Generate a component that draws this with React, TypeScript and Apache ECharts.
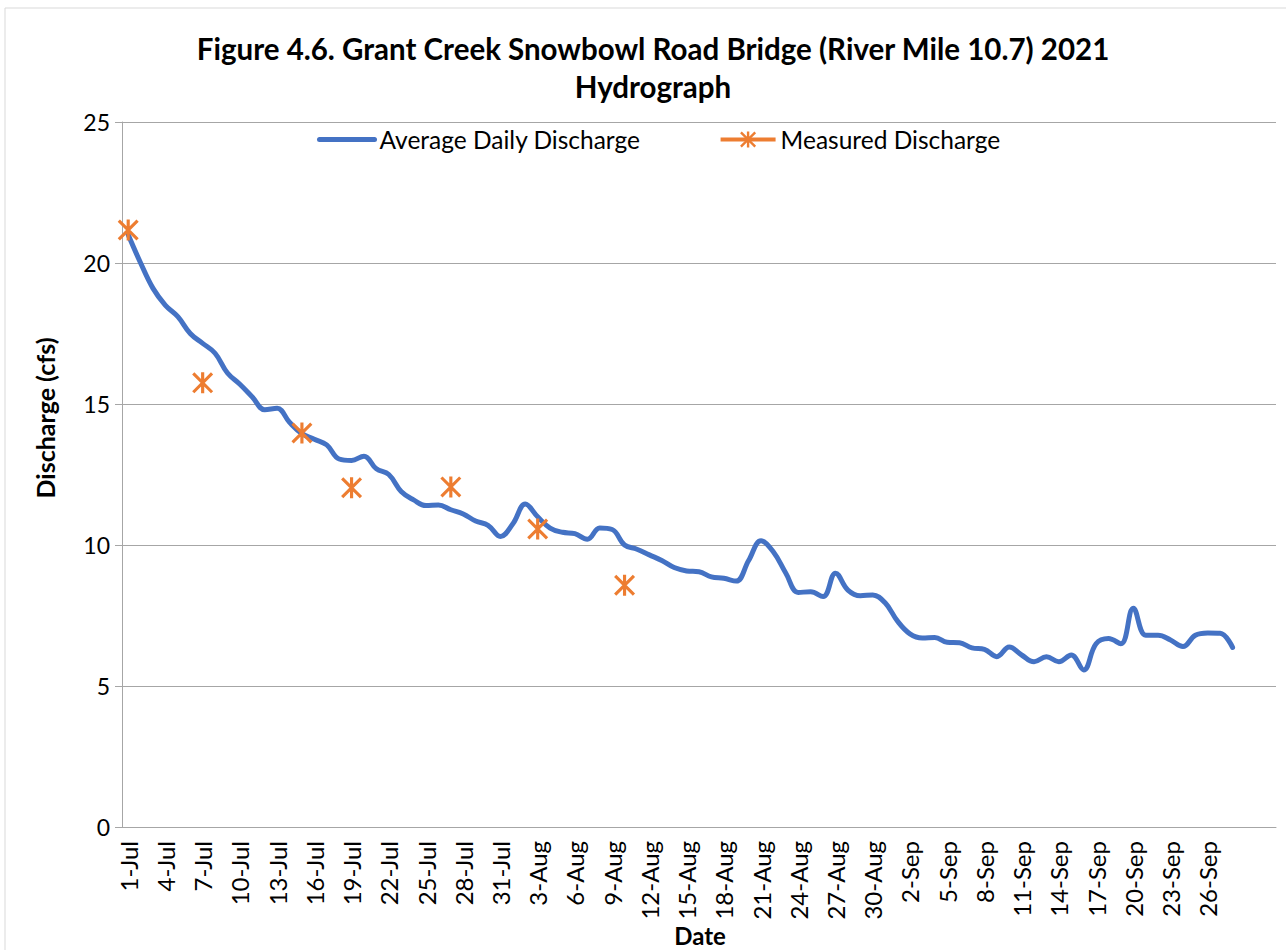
import React, { useEffect, useRef } from 'react';
import * as echarts from 'echarts';

const monthLengths: [string, number][] = [['Jul', 31], ['Aug', 31], ['Sep', 30], ['Oct', 1]];
const categories: string[] = [];
for (const [m, n] of monthLengths) for (let d = 1; d <= n; d++) categories.push(`${d}-${m}`);

const averageDaily = [
  21.0, 20.0, 19.1, 18.5, 18.1, 17.5, 17.15, 16.8, 16.1, 15.7,
  15.25, 14.8, 14.85, 14.35, 13.95, 13.75, 13.55, 13.05, 13.0, 13.15,
  12.7, 12.5, 11.9, 11.6, 11.4, 11.42, 11.25, 11.1, 10.85, 10.7,
  10.3, 10.75, 11.45, 11.0, 10.6, 10.45, 10.4, 10.2, 10.6, 10.55,
  10.0, 9.85, 9.65, 9.45, 9.2, 9.08, 9.05, 8.87, 8.82, 8.72,
  9.45, 10.15, 9.75, 9.0, 8.32, 8.34, 8.17, 9.0, 8.4, 8.2,
  8.23, 7.95, 7.3, 6.85, 6.7, 6.72, 6.55, 6.53, 6.35, 6.3,
  6.04, 6.38, 6.1, 5.86, 6.04, 5.86, 6.1, 5.57, 6.5, 6.68,
  6.5, 7.76, 6.8, 6.8, 6.63, 6.4, 6.8, 6.88, 6.87, 6.37,
];

const measuredDates = ['1-Jul', '7-Jul', '15-Jul', '19-Jul', '27-Jul', '3-Aug', '10-Aug'];
const measuredValues = [21.17, 15.75, 13.97, 12.03, 12.06, 10.57, 8.57];

const yTicks = { min: 0, max: 25, interval: 5 };
const lastLabel = '26-Sep';

const FONT = 'Lato, Carlito, Calibri, sans-serif';
const asterisk =
  'path://M8.5 0H11.5V20H8.5Z M2.1 0L20 17.9L17.9 20L0 2.1Z M17.9 0L20 2.1L2.1 20L0 17.9Z';

export default function App() {
  const ref = useRef<HTMLDivElement>(null);
  useEffect(() => {
    if (!ref.current) return;
    const chart = echarts.init(ref.current, undefined, { renderer: 'svg' });
    const avgData = categories.map((_, i) => (i < averageDaily.length ? averageDaily[i] : null));
    const measData = categories.map((c) => {
      const k = measuredDates.indexOf(c);
      return k >= 0 ? measuredValues[k] : null;
    });
    const lastIdx = categories.indexOf(lastLabel);
    chart.setOption({
      animation: false,
      backgroundColor: '#ffffff',
      textStyle: { fontFamily: FONT },
      title: {
        text: 'Figure 4.6. Grant Creek Snowbowl Road Bridge (River Mile 10.7) 2021\nHydrograph',
        left: 648,
        top: 24,
        textAlign: 'center',
        textStyle: { fontFamily: FONT, fontSize: 29.5, fontWeight: 'bold', color: '#000', lineHeight: 38 },
      },
      legend: {
        top: 122,
        left: 312,
        itemWidth: 55,
        itemHeight: 20,
        itemGap: 78,
        textStyle: { fontFamily: FONT, fontSize: 24.5, color: '#000' },
        data: [
          {
            name: 'Average Daily Discharge',
            itemStyle: { opacity: 0 },
            lineStyle: { width: 5, color: '#4472c4' },
          },
          {
            name: 'Measured Discharge',
            lineStyle: { width: 4, color: '#ed7d31' },
          },
        ],
      },
      grid: { left: 122, top: 122, right: 10, bottom: 123, containLabel: false },
      xAxis: {
        type: 'category',
        data: categories,
        boundaryGap: true,
        axisLine: { show: true, lineStyle: { color: '#a6a6a6', width: 1 } },
        axisTick: { show: false },
        axisLabel: {
          rotate: 90,
          interval: (idx: number) => idx % 3 === 0 && idx <= lastIdx,
          fontSize: 24,
          fontFamily: FONT,
          color: '#000',
          margin: 14,
        },
        splitLine: { show: false },
      },
      yAxis: {
        type: 'value',
        min: yTicks.min,
        max: yTicks.max,
        interval: yTicks.interval,
        axisLine: { show: true, lineStyle: { color: '#a6a6a6', width: 1 } },
        axisTick: { show: true, length: 7, lineStyle: { color: '#a6a6a6' } },
        axisLabel: { fontSize: 23, fontFamily: FONT, color: '#000', margin: 12 },
        splitLine: { show: true, lineStyle: { color: '#a6a6a6', width: 1 } },
      },
      graphic: [
        {
          type: 'rect',
          shape: { x: 5, y: 8, width: 1300, height: 960 },
          style: { fill: 'none', stroke: '#d9d9d9', lineWidth: 1 },
          silent: true,
        },
        {
          type: 'text',
          x: 45,
          y: 418,
          rotation: Math.PI / 2,
          style: {
            text: 'Discharge (cfs)',
            font: `bold 25px ${FONT}`,
            fill: '#000',
            align: 'center',
            verticalAlign: 'middle',
          },
        },
        {
          type: 'text',
          x: 700,
          y: 935,
          style: {
            text: 'Date',
            font: `bold 24px ${FONT}`,
            fill: '#000',
            align: 'center',
            verticalAlign: 'middle',
          },
        },
      ],
      series: [
        {
          name: 'Average Daily Discharge',
          type: 'line',
          data: avgData,
          smooth: 0.4,
          symbol: 'none',
          lineStyle: { color: '#4472c4', width: 5, cap: 'round', join: 'round' },
          itemStyle: { color: '#4472c4' },
          z: 2,
        },
        {
          name: 'Measured Discharge',
          type: 'line',
          data: measData,
          connectNulls: false,
          showSymbol: true,
          showAllSymbol: true,
          symbol: asterisk,
          symbolSize: 21,
          lineStyle: { color: '#ed7d31', width: 4 },
          itemStyle: { color: '#ed7d31' },
          z: 3,
        },
      ],
    });
    return () => chart.dispose();
  }, []);
  return (
    <div
      ref={ref}
      style={{ position: 'absolute', left: 0, top: 0, width: 1286, height: 950 }}
    />
  );
}
